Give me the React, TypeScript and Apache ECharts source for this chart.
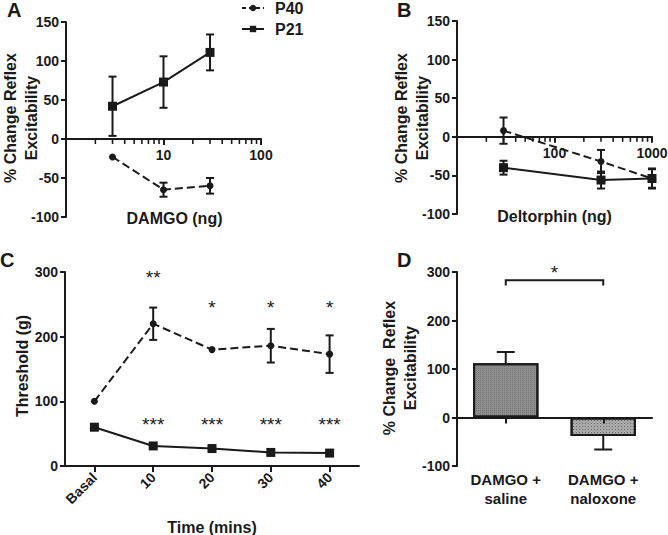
import React, { useEffect, useRef } from "react";
import * as echarts from "echarts";

// ---------- Panel A : DAMGO dose response ----------
const doseA = [3, 10, 30];
const p40A = [-23, -65, -60];
const p40AErr = [0, 9, 10];
const p21A = [42, 73, 111];
const p21AErr = [38, 33, 23];
const minorTicksA = [2, 3, 4, 5, 6, 7, 8, 9, 20, 30, 40, 50, 60, 70, 80, 90];

// ---------- Panel B : Deltorphin dose response ----------
const doseB = [30, 300, 1000];
const p40B = [8, -32, -54];
const p40BErr = [17, 15, 12];
const p21B = [-40, -56, -54];
const p21BErr = [9, 11, 13];
const minorTicksB = [20, 30, 40, 50, 60, 70, 80, 90, 200, 300, 400, 500, 600, 700, 800, 900];

// ---------- Panel C : threshold over time ----------
const timeLabels = ["Basal", "10", "20", "30", "40"];
const p40C = [100, 220, 180, 186, 173];
const p40CErr = [0, 25, 0, 26, 29];
const p21C = [60, 31, 27, 21, 20];
const p21CErr = [0, 0, 0, 0, 0];
const sigP40C = ["", "**", "*", "*", "*"];
const sigP40CY = [0, 297, 251, 251, 251];
const sigP21C = ["", "***", "***", "***", "***"];
const sigP21CY = [0, 71, 71, 71, 71];

// ---------- Panel D : DAMGO + saline / naloxone ----------
const groupsD = ["DAMGO +\nsaline", "DAMGO +\nnaloxone"];
const valuesD = [112, -38];
const errD = [23, 28];
const barColorsD = ["#8e8e8e", "#a8a8a8"];
const bracketD = [283, 272];
const starD = 308;

const AX = "#1a1a1a";
const FONT = "'Liberation Sans', Arial, sans-serif";

const tickLabel = { color: AX, fontFamily: FONT, fontWeight: "bold" as const, fontSize: 14 };
const nameStyle = { color: AX, fontFamily: FONT, fontWeight: "bold" as const, fontSize: 16, lineHeight: 21 };
const axisLine = { show: true, onZero: false, lineStyle: { color: AX, width: 2 } };
const axisTick = { show: true, length: 5, lineStyle: { color: AX, width: 2 } };

// grid boxes (layout)
const GA = { left: 66, top: 22, width: 195, height: 195 };
const GB = { left: 457, top: 21, width: 195, height: 193 };
const GC = { left: 65, top: 272, width: 294, height: 194 };
const GD = { left: 457, top: 272, width: 195, height: 194 };

// pixel distance from the grid bottom up to the y=0 line
const zeroOffset = (h: number, min: number, max: number) => (h * (0 - min)) / (max - min);

function errSeries(xi: number, xs: number[], ys: number[], es: number[], cap: number) {
  return {
    type: "custom",
    xAxisIndex: xi,
    yAxisIndex: xi,
    z: 4,
    silent: true,
    data: xs.map((x, i) => [x, ys[i], es[i]]),
    renderItem: (_p: any, api: any) => {
      const x = api.value(0);
      const y = api.value(1);
      const e = api.value(2);
      if (!e) return null;
      const t = api.coord([x, y + e]);
      const b = api.coord([x, y - e]);
      const st = { stroke: AX, lineWidth: 2 };
      return {
        type: "group",
        children: [
          { type: "line", shape: { x1: t[0], y1: t[1], x2: b[0], y2: b[1] }, style: st },
          { type: "line", shape: { x1: t[0] - cap, y1: t[1], x2: t[0] + cap, y2: t[1] }, style: st },
          { type: "line", shape: { x1: b[0] - cap, y1: b[1], x2: b[0] + cap, y2: b[1] }, style: st },
        ],
      };
    },
  };
}

function minorTickSeries(xi: number, ticks: number[]) {
  return {
    type: "custom",
    xAxisIndex: xi,
    yAxisIndex: xi,
    silent: true,
    z: 5,
    data: ticks.map((v) => [v, 0]),
    renderItem: (_p: any, api: any) => {
      const c = api.coord([api.value(0), 0]);
      return {
        type: "line",
        shape: { x1: c[0], y1: c[1], x2: c[0], y2: c[1] + 5 },
        style: { stroke: AX, lineWidth: 1.6 },
      };
    },
  };
}

function sigSeries(xi: number, labels: string[], ys: number[]) {
  return {
    type: "custom",
    xAxisIndex: xi,
    yAxisIndex: xi,
    silent: true,
    z: 6,
    data: labels.map((_, i) => [i, ys[i]]),
    renderItem: (p: any, api: any) => {
      const txt = labels[p.dataIndex];
      if (!txt) return null;
      const c = api.coord([api.value(0), api.value(1)]);
      return {
        type: "text",
        x: c[0],
        y: c[1] + 4,
        style: {
          text: txt,
          fill: AX,
          fontFamily: FONT,
          fontSize: 19,
          align: "center",
          verticalAlign: "middle",
        },
      };
    },
  };
}

function lineSeries(name: string, xi: number, data: any[], dashed: boolean) {
  return {
    name,
    type: "line",
    xAxisIndex: xi,
    yAxisIndex: xi,
    data,
    symbol: dashed ? "circle" : "rect",
    symbolSize: dashed ? 7 : 9,
    itemStyle: { color: AX },
    lineStyle: { color: AX, width: 2, type: dashed ? [8, 4] : "solid" },
    z: 3,
  };
}

function vTitle(text: string, x: number, y: number) {
  return {
    type: "text",
    x,
    y,
    rotation: Math.PI / 2,
    style: {
      text,
      fill: AX,
      fontFamily: FONT,
      fontWeight: "bold",
      fontSize: 16,
      lineHeight: 21,
      align: "center",
      verticalAlign: "middle",
    },
  };
}

export default function App() {
  const ref = useRef<HTMLDivElement>(null);
  useEffect(() => {
    if (!ref.current) return;
    const chart = echarts.init(ref.current, null, { renderer: "svg" });

    const yDose = (gi: number) => ({
      type: "value",
      gridIndex: gi,
      min: -100,
      max: 150,
      interval: 50,
      axisLine,
      axisTick,
      splitLine: { show: false },
      axisLabel: { ...tickLabel, margin: 7 },
    });

    const xLog = (gi: number, g: any, min: number, max: number, name: string, pad: number) => ({
      type: "log",
      logBase: 10,
      gridIndex: gi,
      min,
      max,
      position: "bottom",
      offset: -zeroOffset(g.height, -100, 150),
      axisLine: { show: true, onZero: false, lineStyle: { color: AX, width: 2 } },
      axisTick: { show: true, length: 6, lineStyle: { color: AX, width: 2 } },
      splitLine: { show: false },
      axisLabel: {
        ...tickLabel,
        margin: 9,
        showMinLabel: false,
        formatter: (v: number) => String(Math.round(v)),
      },
      name,
      nameLocation: "middle",
      nameGap: 69,
      nameMoveOverlap: false,
      nameTextStyle: { ...nameStyle, padding: [0, 0, 0, pad] },
    });

    const gridOpts = { containLabel: false, outerBoundsMode: "none" };

    const option: any = {
      animation: false,
      legend: {
        data: [{ name: "P40", lineStyle: { type: [4, 3] } }, { name: "P21" }],
        orient: "vertical",
        left: 236,
        top: -5,
        itemWidth: 22,
        itemHeight: 8,
        itemGap: 5,
        selectedMode: false,
        textStyle: { color: AX, fontFamily: FONT, fontWeight: "bold", fontSize: 16, padding: [0, 0, 0, 6] },
      },
      graphic: [
        { type: "text", left: 7, top: 0, style: { text: "A", fill: AX, font: `bold 20px ${FONT}` } },
        { type: "text", left: 397, top: 0, style: { text: "B", fill: AX, font: `bold 20px ${FONT}` } },
        { type: "text", left: 0, top: 250, style: { text: "C", fill: AX, font: `bold 20px ${FONT}` } },
        { type: "text", left: 397, top: 250, style: { text: "D", fill: AX, font: `bold 20px ${FONT}` } },
        vTitle("% Change Reflex\nExcitability", 21, 118),
        vTitle("% Change Reflex\nExcitability", 412, 118),
        vTitle("Threshold (g)", 22, 366),
        vTitle("% Change  Reflex\nExcitability", 400, 368),
      ],
      grid: [
        { ...GA, ...gridOpts },
        { ...GB, ...gridOpts },
        { ...GC, ...gridOpts },
        { ...GD, ...gridOpts },
      ],
      xAxis: [
        xLog(0, GA, 1, 100, "DAMGO (ng)", 22),
        xLog(1, GB, 10, 1000, "Deltorphin (ng)", 0),
        {
          type: "category",
          gridIndex: 2,
          data: timeLabels,
          boundaryGap: true,
          axisLine: { show: true, onZero: false, lineStyle: { color: AX, width: 2 } },
          axisTick: { show: true, alignWithLabel: true, length: 6, lineStyle: { color: AX, width: 2 } },
          axisLabel: { ...tickLabel, rotate: 45, margin: 9 },
          name: "Time (mins)",
          nameLocation: "middle",
          nameGap: 51,
          nameMoveOverlap: false,
          nameTextStyle: nameStyle,
        },
        {
          type: "category",
          gridIndex: 3,
          data: groupsD,
          z: 5,
          position: "bottom",
          offset: -zeroOffset(GD.height, -100, 300),
          axisLine: { show: true, onZero: false, lineStyle: { color: AX, width: 2 } },
          axisTick: { show: true, alignWithLabel: true, length: 6, lineStyle: { color: AX, width: 2 } },
          axisLabel: { ...tickLabel, fontSize: 15, lineHeight: 19, margin: 52 },
        },
      ],
      yAxis: [
        yDose(0),
        yDose(1),
        {
          type: "value",
          gridIndex: 2,
          min: 0,
          max: 300,
          interval: 100,
          axisLine,
          axisTick,
          splitLine: { show: false },
          axisLabel: { ...tickLabel, margin: 7 },
        },
        {
          type: "value",
          gridIndex: 3,
          min: -100,
          max: 300,
          interval: 100,
          axisLine,
          axisTick,
          splitLine: { show: false },
          axisLabel: { ...tickLabel, margin: 7 },
        },
      ],
      series: [
        // Panel A
        lineSeries("P40", 0, doseA.map((d, i) => [d, p40A[i]]), true),
        lineSeries("P21", 0, doseA.map((d, i) => [d, p21A[i]]), false),
        errSeries(0, doseA, p40A, p40AErr, 4),
        errSeries(0, doseA, p21A, p21AErr, 4),
        minorTickSeries(0, minorTicksA),
        // Panel B
        lineSeries("P40", 1, doseB.map((d, i) => [d, p40B[i]]), true),
        lineSeries("P21", 1, doseB.map((d, i) => [d, p21B[i]]), false),
        errSeries(1, doseB, p40B, p40BErr, 4),
        errSeries(1, doseB, p21B, p21BErr, 4),
        minorTickSeries(1, minorTicksB),
        // Panel C
        lineSeries("P40", 2, p40C.map((v, i) => [i, v]), true),
        lineSeries("P21", 2, p21C.map((v, i) => [i, v]), false),
        errSeries(2, timeLabels.map((_, i) => i), p40C, p40CErr, 4),
        errSeries(2, timeLabels.map((_, i) => i), p21C, p21CErr, 4),
        sigSeries(2, sigP40C, sigP40CY),
        sigSeries(2, sigP21C, sigP21CY),
        // Panel D
        {
          type: "bar",
          xAxisIndex: 3,
          yAxisIndex: 3,
          barWidth: "67%",
          z: 2,
          data: valuesD.map((v, i) => ({
            value: v,
            itemStyle: {
              color: barColorsD[i],
              borderColor: AX,
              borderWidth: 2,
              decal:
                i === 1
                  ? { symbol: "rect", symbolSize: 1, color: "rgba(40,40,40,0.45)", dashArrayX: [1, 2], dashArrayY: [1, 2], rotation: 0 }
                  : { symbol: "rect", symbolSize: 1, color: "rgba(60,60,60,0.25)", dashArrayX: [1, 1], dashArrayY: [1, 1], rotation: 0 },
            },
          })),
        },
        {
          type: "custom",
          xAxisIndex: 3,
          yAxisIndex: 3,
          silent: true,
          z: 4,
          data: valuesD.map((v, i) => [i, v, v + Math.sign(v) * errD[i]]),
          renderItem: (_p: any, api: any) => {
            const a = api.coord([api.value(0), api.value(1)]);
            const b = api.coord([api.value(0), api.value(2)]);
            const st = { stroke: AX, lineWidth: 2 };
            return {
              type: "group",
              children: [
                { type: "line", shape: { x1: a[0], y1: a[1], x2: b[0], y2: b[1] }, style: st },
                { type: "line", shape: { x1: b[0] - 9, y1: b[1], x2: b[0] + 9, y2: b[1] }, style: st },
              ],
            };
          },
        },
        {
          type: "custom",
          xAxisIndex: 3,
          yAxisIndex: 3,
          silent: true,
          z: 4,
          clip: false,
          data: [[0, 1, bracketD[0], bracketD[1], starD]],
          renderItem: (_p: any, api: any) => {
            const l0 = api.coord([api.value(0), api.value(3)]);
            const l1 = api.coord([api.value(0), api.value(2)]);
            const r1 = api.coord([api.value(1), api.value(2)]);
            const r0 = api.coord([api.value(1), api.value(3)]);
            const s = api.coord([api.value(0), api.value(4)]);
            const mx = (l1[0] + r1[0]) / 2;
            return {
              type: "group",
              children: [
                {
                  type: "polyline",
                  shape: { points: [l0, l1, r1, r0] },
                  style: { stroke: AX, lineWidth: 2, fill: "none" },
                },
                {
                  type: "text",
                  x: mx,
                  y: s[1] + 4,
                  style: { text: "*", fill: AX, fontFamily: FONT, fontSize: 19, align: "center", verticalAlign: "middle" },
                },
              ],
            };
          },
        },
      ],
    };

    chart.setOption(option);
    return () => chart.dispose();
  }, []);

  return <div ref={ref} style={{ position: "absolute", left: 0, top: 0, width: 668, height: 535 }} />;
}
